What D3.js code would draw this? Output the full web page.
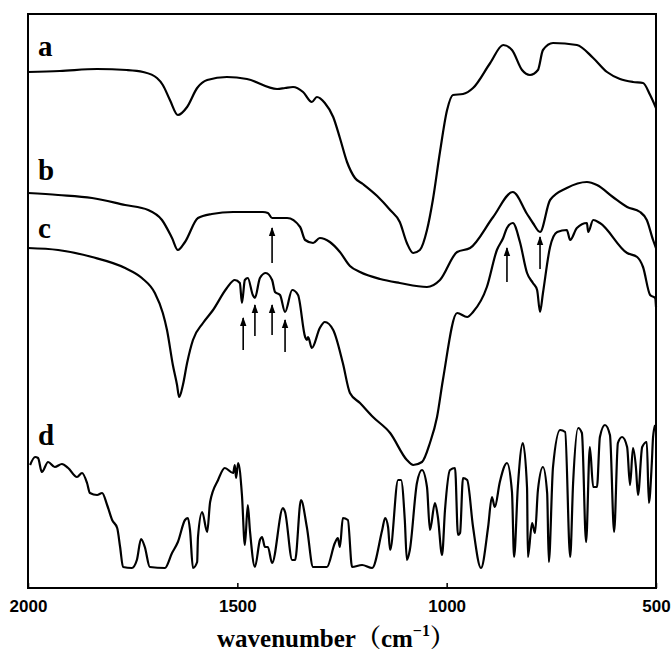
<!DOCTYPE html>
<html>
<head>
<meta charset="utf-8">
<script src="https://cdn.jsdelivr.net/npm/d3@7"></script>
<style>
  body { margin: 0; background: #fff; }
</style>
</head>
<body>
<div id="chart"></div>
<script>
// FTIR spectra a-d, wavenumber (cm-1) vs transmittance (a.u., offset)
const aWave = [2000,1924,1835,1764,1725,1692,1678,1661,1642,1620,1596,1572,1525,1477,1405,1386,1367,1343,1322,1310,1291,1271,1255,1238,1219,1200,1166,1135,1112,1095,1080,1064,1047,1033,1016,999,985,961,937,896,865,844,820,801,782,770,746,689,650,617,586,555,531,514,500];
const aTrans = [103.2,103.4,103.8,103.6,103.2,102.0,100.6,97.6,94.6,96.2,100.0,101.6,102.2,101.8,99.8,100.0,100.2,99.2,97.2,98.2,97.0,94.2,90.0,85.2,82.0,80.8,78.4,75.6,73.2,69.0,67.0,67.6,71.6,77.6,87.2,95.6,98.6,98.8,100.0,105.0,108.6,107.6,103.6,102.6,103.6,107.6,109.0,108.6,106.0,103.2,101.8,101.2,101.0,98.6,96.0];

const bWave = [2000,1928,1847,1768,1713,1680,1656,1642,1625,1594,1561,1510,1439,1427,1417,1381,1350,1338,1319,1303,1279,1255,1231,1207,1159,1112,1047,1016,975,944,889,842,808,794,777,753,713,665,641,603,569,538,522,507,500];
const bTrans = [79.0,78.6,78.0,76.6,75.6,73.6,70.0,67.6,69.2,74.0,74.8,75.2,75.2,75.0,74.0,74.0,72.2,69.6,69.0,70.0,69.2,67.2,64.4,63.2,61.8,61.0,60.2,61.6,67.2,68.0,74.2,79.2,74.8,73.0,71.2,77.6,80.0,81.2,80.6,78.2,76.2,75.2,73.6,69.6,68.0];

const cWave = [2000,1928,1847,1768,1728,1697,1678,1668,1654,1644,1639,1630,1620,1606,1582,1558,1525,1506,1494,1489,1482,1475,1463,1458,1446,1432,1417,1410,1398,1386,1369,1355,1338,1334,1331,1322,1303,1291,1271,1248,1231,1207,1176,1135,1095,1080,1059,1040,1023,1009,975,951,937,904,880,865,856,842,825,808,794,784,777,770,753,736,713,705,689,665,662,650,634,569,545,531,514,502,500];
const cTrans = [68.0,67.6,66.2,64.0,62.0,59.0,55.0,51.6,44.6,40.6,38.2,40.6,45.0,49.6,53.0,55.6,60.0,61.6,61.0,57.0,61.6,62.0,58.6,58.0,62.0,63.0,61.6,59.2,58.6,55.2,59.6,58.6,50.2,49.6,50.2,48.0,52.0,53.2,51.6,45.0,39.0,37.0,34.2,31.0,25.6,24.6,25.2,29.0,34.2,41.6,55.0,54.2,55.2,60.2,67.6,70.0,72.0,73.0,69.2,63.0,61.0,59.6,55.2,59.0,68.2,71.2,71.6,69.6,72.0,73.0,71.2,73.6,73.0,67.0,66.2,64.2,58.6,58.0,56.2];

const dWave = [1995,1983,1976,1967,1952,1936,1919,1904,1883,1871,1859,1852,1835,1823,1811,1799,1787,1780,1773,1752,1740,1730,1721,1709,1673,1656,1642,1625,1618,1613,1606,1596,1594,1584,1572,1565,1546,1530,1510,1506,1503,1498,1489,1482,1475,1470,1458,1446,1441,1434,1427,1417,1391,1386,1369,1362,1348,1334,1319,1286,1267,1260,1255,1248,1236,1226,1202,1178,1154,1147,1140,1135,1116,1109,1100,1095,1088,1071,1059,1047,1040,1028,1021,1011,1004,992,980,973,968,961,951,937,918,901,892,885,873,856,844,839,830,818,808,806,796,789,782,770,760,756,746,729,717,705,698,686,677,667,658,650,641,634,622,610,600,591,581,569,562,555,548,543,533,522,517,510,507,502];
const dTrans = [24.6,26.2,26.0,23.2,25.2,24.2,24.8,24.0,22.2,23.0,21.0,19.0,18.6,19.0,16.6,13.6,12.0,8.2,4.2,4.0,5.6,9.8,8.2,4.2,4.0,7.0,9.2,13.6,14.0,11.6,4.0,5.2,10.2,15.2,11.2,17.2,21.6,24.0,23.0,24.6,22.0,25.0,18.6,8.6,16.6,11.6,4.2,9.6,10.2,8.2,8.2,5.0,16.0,15.2,5.6,5.6,17.6,12.2,4.2,4.2,9.0,10.0,8.2,14.0,13.6,4.2,4.6,4.0,11.6,14.0,12.2,7.6,21.6,21.6,13.6,5.6,7.6,21.0,23.6,20.2,11.6,17.0,14.2,6.6,15.6,23.6,24.0,10.6,11.0,22.0,21.6,12.2,4.0,12.2,18.2,16.2,21.2,25.0,19.2,6.2,20.2,29.0,20.0,6.2,13.0,11.0,19.6,24.2,19.0,5.2,24.2,31.6,31.2,6.2,21.0,32.0,31.0,9.2,28.2,20.2,20.2,30.2,32.6,30.6,11.2,29.0,30.2,28.2,20.6,28.0,24.2,18.6,28.2,29.2,17.0,25.0,30.2,32.6];

const curveNames = ['a', 'b', 'c', 'd'];
const labelTrans = [106.4, 81.6, 70.0, 28.6];

const xTicks = [2000, 1500, 1000, 500];

// marked bands (arrow points up)
const arrowWave = [1417, 1486, 1458, 1417, 1386, 856, 777];
const arrowFrom = [65.0, 47.6, 50.4, 50.6, 47.2, 61.2, 63.8];
const arrowTo = [72.0, 54.0, 56.6, 56.6, 53.6, 68.0, 70.2];

const W = 672, H = 652;
const plotLeft = 28, plotRight = 656, plotTop = 14, plotBottom = 588;

const svg = d3.select('#chart').append('svg')
  .attr('width', W)
  .attr('height', H)
  .attr('viewBox', [0, 0, W, H]);

const x = d3.scaleLinear().domain([2000, 500]).range([plotLeft, plotRight]);
const y = d3.scaleLinear().domain([0, 114.8]).range([plotBottom, plotTop]);

const series = [
  d3.zip(aWave, aTrans),
  d3.zip(bWave, bTrans),
  d3.zip(cWave, cTrans),
  d3.zip(dWave, dTrans)
];

const line = d3.line()
  .x(d => x(d[0]))
  .y(d => y(d[1]))
  .curve(d3.curveMonotoneX);

svg.append('g')
  .selectAll('path')
  .data(series)
  .join('path')
  .attr('d', line)
  .attr('fill', 'none')
  .attr('stroke', '#000')
  .attr('stroke-width', 2.2)
  .attr('stroke-linejoin', 'round');

// arrows
const defs = svg.append('defs');
defs.append('marker')
  .attr('id', 'head')
  .attr('viewBox', '0 -5 10 10')
  .attr('refX', 9)
  .attr('refY', 0)
  .attr('markerUnits', 'userSpaceOnUse')
  .attr('markerWidth', 9)
  .attr('markerHeight', 9)
  .attr('orient', 'auto')
  .append('path')
  .attr('d', 'M0,-3.6L10,0L0,3.6Z')
  .attr('fill', '#000');

svg.append('g')
  .selectAll('line')
  .data(arrowWave.map((w, i) => ({ w, from: arrowFrom[i], to: arrowTo[i] })))
  .join('line')
  .attr('x1', d => x(d.w))
  .attr('x2', d => x(d.w))
  .attr('y1', d => y(d.from))
  .attr('y2', d => y(d.to))
  .attr('stroke', '#000')
  .attr('stroke-width', 1.6)
  .attr('marker-end', 'url(#head)');

// frame
svg.append('rect')
  .attr('x', plotLeft)
  .attr('y', plotTop)
  .attr('width', plotRight - plotLeft)
  .attr('height', plotBottom - plotTop)
  .attr('fill', 'none')
  .attr('stroke', '#000')
  .attr('stroke-width', 2);

// x axis, ticks pointing inward
const axis = svg.append('g')
  .attr('transform', `translate(0,${plotBottom})`)
  .call(d3.axisBottom(x).tickValues(xTicks).tickSize(-5).tickPadding(12).tickFormat(d3.format('d')));
axis.select('.domain').remove();
axis.selectAll('.tick line').attr('stroke', '#000').attr('stroke-width', 1.5);
axis.selectAll('.tick text')
  .attr('fill', '#000')
  .attr('font-family', '"Liberation Sans", Arial, sans-serif')
  .attr('font-weight', 'bold')
  .attr('font-size', '17px');

// curve labels
svg.append('g')
  .selectAll('text')
  .data(curveNames)
  .join('text')
  .attr('x', x(1976))
  .attr('y', (d, i) => y(labelTrans[i]))
  .text(d => d)
  .attr('font-family', '"Liberation Serif", "Times New Roman", serif')
  .attr('font-weight', 'bold')
  .attr('font-size', '29px')
  .attr('fill', '#000');

// axis title
const title = svg.append('text')
  .attr('x', (plotLeft + plotRight) / 2 - 6)
  .attr('y', 647)
  .attr('text-anchor', 'middle')
  .attr('font-family', '"Liberation Serif", "Times New Roman", "Noto Serif CJK SC", "Noto Sans CJK SC", serif')
  .attr('font-weight', 'bold')
  .attr('font-size', '25px')
  .attr('fill', '#000');
title.append('tspan').text('wavenumber（cm');
title.append('tspan').attr('dy', -11).attr('font-size', '16px').text('−1');
title.append('tspan').attr('dy', 11).text('）');
</script>
</body>
</html>
